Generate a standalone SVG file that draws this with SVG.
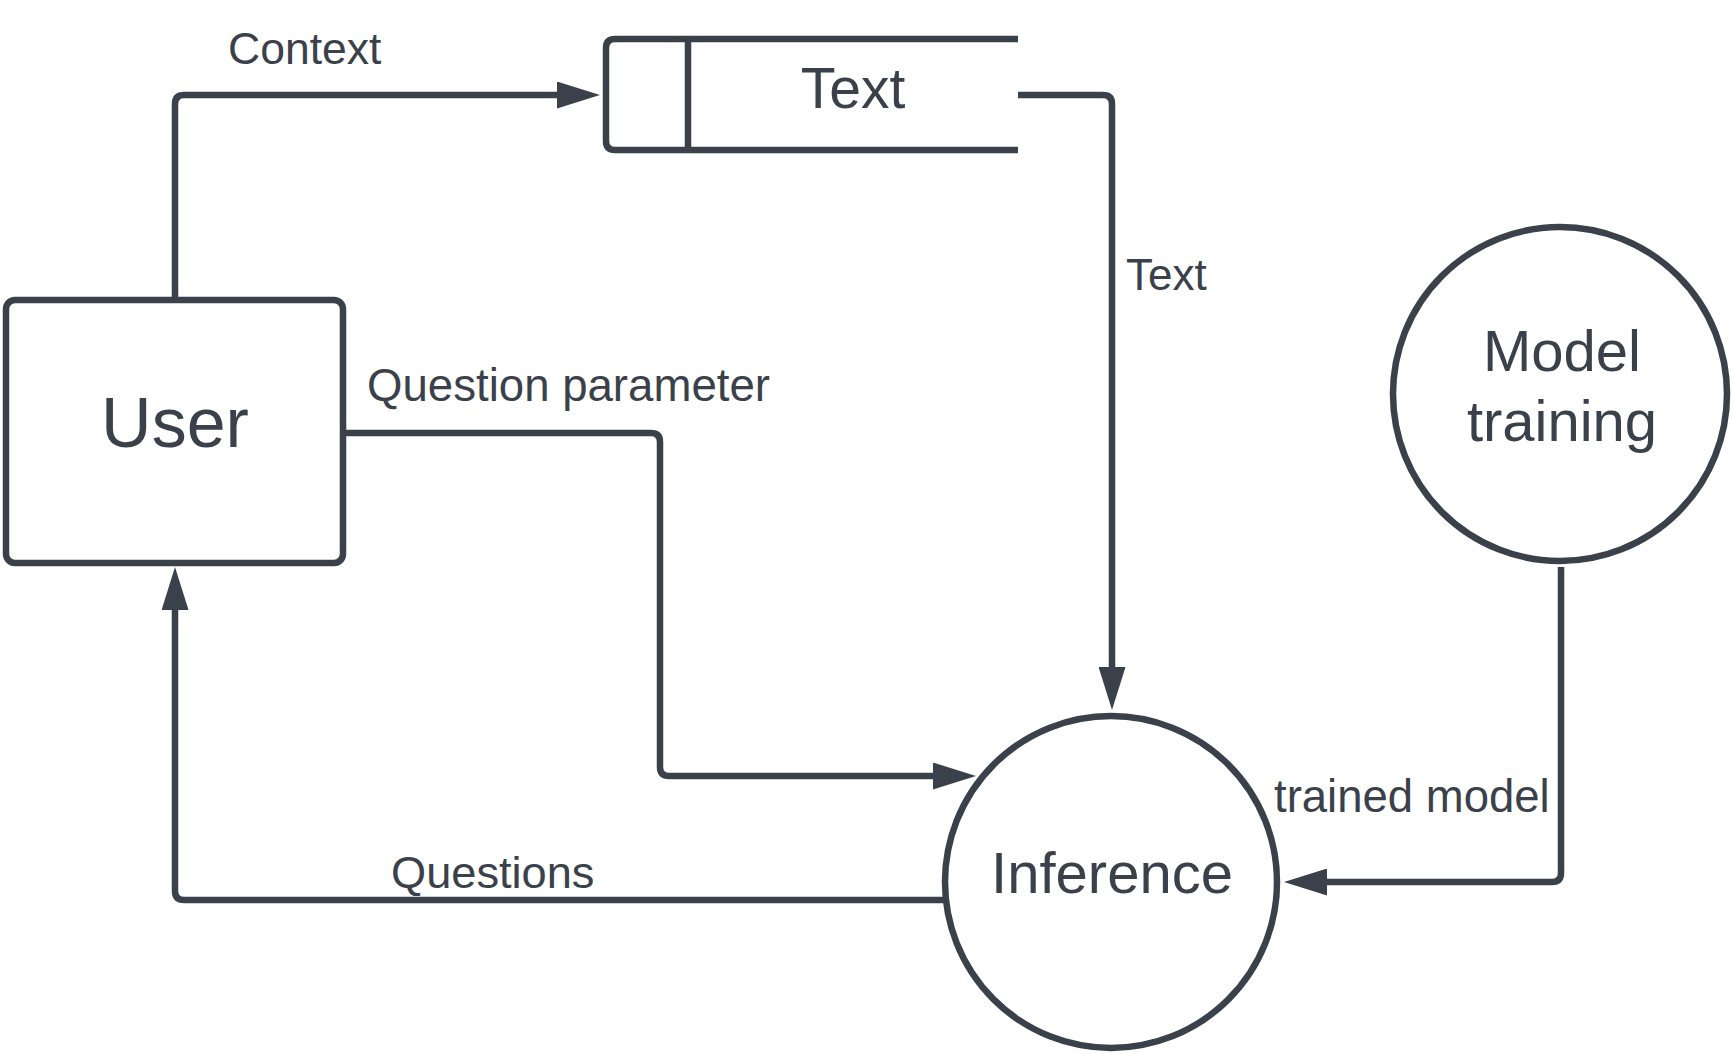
<svg xmlns="http://www.w3.org/2000/svg" width="1733" height="1054" viewBox="0 0 1733 1054">
<style>
.shape{fill:#ffffff;stroke:#3a414a;stroke-width:6.5}
.ln{fill:none;stroke:#3a414a;stroke-width:6.5}
.lbl{font-family:"Liberation Sans",Arial,sans-serif;fill:#3a414a}
</style>
<defs>
<marker id="arr" viewBox="0 0 43 27" refX="0" refY="13.5" markerWidth="43" markerHeight="27" markerUnits="userSpaceOnUse" orient="auto">
<path d="M0,0 L43,13.5 L0,27 z" fill="#3a414a"/>
</marker>
</defs>
<rect width="1733" height="1054" fill="#ffffff"/>
<g id="connectors">
<path class="ln" d="M175,300 V104 Q175,95 184,95 H557" marker-end="url(#arr)"/>
<path class="ln" d="M1018,95 H1103 Q1112,95 1112,104 V667" marker-end="url(#arr)"/>
<path class="ln" d="M343,433 H651 Q660,433 660,442 V767 Q660,776 669,776 H933" marker-end="url(#arr)"/>
<path class="ln" d="M946,900 H184 Q175,900 175,891 V610" marker-end="url(#arr)"/>
<path class="ln" d="M1561,567 V873 Q1561,882 1552,882 H1327" marker-end="url(#arr)"/>
<text class="lbl" x="228" y="64" font-size="44.5">Context</text>
<text class="lbl" x="1126" y="290" font-size="44">Text</text>
<text class="lbl" x="367" y="401" font-size="45.6">Question parameter</text>
<text class="lbl" x="391" y="888" font-size="45.2">Questions</text>
<text class="lbl" x="1274" y="812" font-size="45.5">trained model</text>
</g>
<g id="user">
<rect class="shape" x="6" y="300" width="337" height="263" rx="9"/>
<text class="lbl" x="175" y="447" font-size="70" text-anchor="middle">User</text>
</g>
<g id="datastore">
<path class="ln" d="M1018,39 H615 Q606,39 606,48 V141 Q606,150 615,150 H1018"/>
<path class="ln" d="M688,39 V150"/>
<text class="lbl" x="853" y="108" font-size="57" text-anchor="middle">Text</text>
</g>
<g id="inference">
<circle class="shape" cx="1111" cy="882" r="166"/>
<text class="lbl" x="1112" y="893" font-size="58" text-anchor="middle">Inference</text>
</g>
<g id="model-training">
<circle class="shape" cx="1560" cy="394" r="167"/>
<text class="lbl" x="1562" y="371" font-size="58" text-anchor="middle">Model</text>
<text class="lbl" x="1562" y="441" font-size="58" text-anchor="middle">training</text>
</g>
</svg>
